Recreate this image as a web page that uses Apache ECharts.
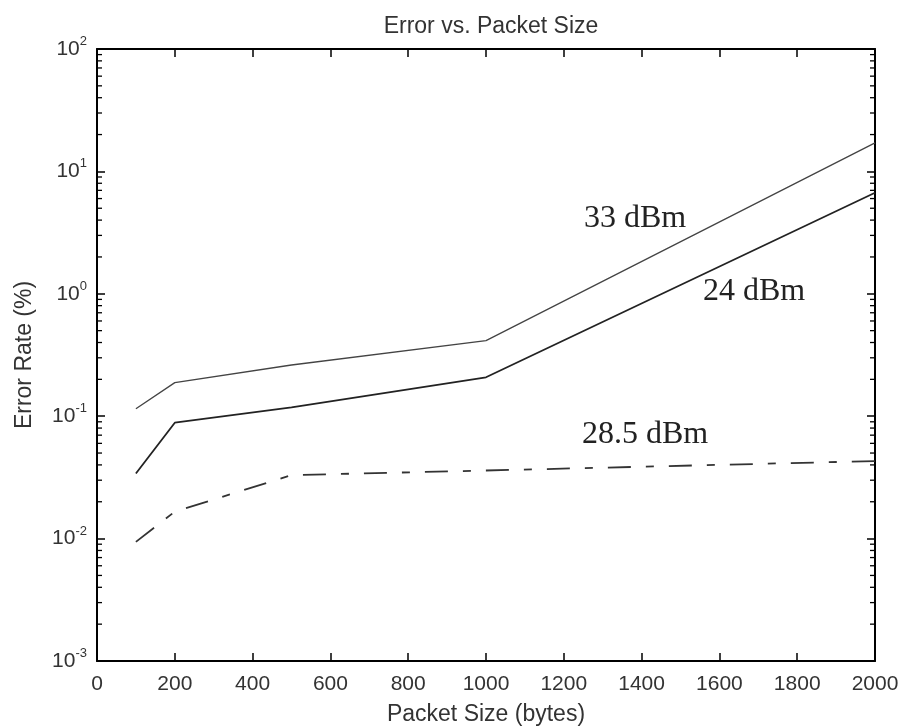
<!DOCTYPE html>
<html>
<head>
<meta charset="utf-8">
<script src="https://cdn.jsdelivr.net/npm/echarts@6/dist/echarts.min.js"></script>
<style>
html,body{margin:0;padding:0;background:#fff;}
#c{width:903px;height:727px;}
</style>
</head>
<body>
<div id="c"></div>
<script>
// ---- data ----
const packetSizes = [100, 200, 500, 1000, 2000];
const err33 = [0.115, 0.188, 0.262, 0.414, 17.1];
const err24 = [0.034, 0.0885, 0.118, 0.208, 6.7];
const err285 = [0.0094, 0.0166, 0.033, 0.036, 0.043];
const seriesNames = ['33 dBm', '24 dBm', '28.5 dBm'];
const xTicks = [0, 200, 400, 600, 800, 1000, 1200, 1400, 1600, 1800, 2000];
const yDecades = [-3, -2, -1, 0, 1, 2];
const minorMantissas = [2, 3, 4, 5, 6, 7, 8, 9];

const pairs = (ys) => packetSizes.map((x, i) => [x, ys[i]]);

const minorTickVals = [];
yDecades.slice(0, -1).forEach(d => minorMantissas.forEach(m => minorTickVals.push([0, m * Math.pow(10, d)])));

const chart = echarts.init(document.getElementById('c'), null, {renderer: 'canvas'});
const sans = 'Liberation Sans, Arial, sans-serif';
const serif = 'Liberation Serif, Times New Roman, serif';

const axisLine = {show: true, onZero: false, lineStyle: {color: '#000', width: 2}};

const option = {
  backgroundColor: '#fff',
  animation: false,
  title: {
    text: 'Error vs. Packet Size',
    left: 486, top: 10, textAlign: 'center',
    textStyle: {fontFamily: sans, fontSize: 23, fontWeight: 'normal', color: '#333'}
  },
  grid: {left: 97, right: 28, top: 49, bottom: 66, containLabel: false, outerBoundsMode: 'none'},
  xAxis: [{
    type: 'value', min: 0, max: 2000, interval: 200,
    axisLine: axisLine,
    axisTick: {show: true, inside: true, length: 8, lineStyle: {color: '#000', width: 1.5}},
    axisLabel: {fontFamily: sans, fontSize: 21, color: '#333', margin: 13,
      formatter: (v) => String(v)},
    splitLine: {show: false},
    name: 'Packet Size (bytes)', nameLocation: 'middle', nameGap: 42,
    nameTextStyle: {fontFamily: sans, fontSize: 23, color: '#333'}
  }, {
    type: 'value', min: 0, max: 2000, interval: 200, position: 'top',
    axisLine: axisLine,
    axisTick: {show: true, inside: true, length: 8, lineStyle: {color: '#000', width: 1.5}},
    axisLabel: {show: false}, splitLine: {show: false}
  }],
  yAxis: [{
    type: 'log', logBase: 10, min: 0.001, max: 100,
    axisLine: axisLine,
    axisTick: {show: true, inside: true, length: 8, lineStyle: {color: '#000', width: 1.5}},
    axisLabel: {
      fontFamily: sans, color: '#333', margin: 10,
      formatter: (v) => '{b|10}{s|' + Math.round(Math.log10(v)) + '}',
      rich: {
        b: {fontFamily: sans, fontSize: 21, color: '#333'},
        s: {fontFamily: sans, fontSize: 13, color: '#333', padding: [0, 0, 15, 0]}
      }
    },
    splitLine: {show: false},
    name: 'Error Rate (%)', nameLocation: 'middle', nameGap: 61,
    nameTextStyle: {fontFamily: sans, fontSize: 23, color: '#333'}
  }, {
    type: 'log', logBase: 10, min: 0.001, max: 100, position: 'right',
    axisLine: axisLine,
    axisTick: {show: true, inside: true, length: 8, lineStyle: {color: '#000', width: 1.5}},
    axisLabel: {show: false}, splitLine: {show: false}
  }],
  graphic: [
    {type: 'text', left: 584, top: 203, style: {text: seriesNames[0], font: '32px ' + serif, fill: '#222'}},
    {type: 'text', left: 703, top: 276, style: {text: seriesNames[1], font: '32px ' + serif, fill: '#222'}},
    {type: 'text', left: 582, top: 419, style: {text: seriesNames[2], font: '32px ' + serif, fill: '#222'}}
  ],
  series: [
    {
      name: seriesNames[0], type: 'line', data: pairs(err33), symbol: 'none',
      lineStyle: {color: '#444', width: 1.3}
    },
    {
      name: seriesNames[1], type: 'line', data: pairs(err24), symbol: 'none',
      lineStyle: {color: '#222', width: 1.8}
    },
    {
      name: seriesNames[2], type: 'line', data: pairs(err285), symbol: 'none',
      lineStyle: {color: '#333', width: 1.8, type: [23, 15, 8, 15]}
    },
    {
      type: 'custom', data: minorTickVals, silent: true, clip: false,
      renderItem: function (params, api) {
        const rect = params.coordSys;
        const p = api.coord([0, api.value(1)]);
        const y = p[1];
        const st = {stroke: '#000', lineWidth: 1.3};
        return {
          type: 'group',
          children: [
            {type: 'line', shape: {x1: rect.x, y1: y, x2: rect.x + 5, y2: y}, style: st},
            {type: 'line', shape: {x1: rect.x + rect.width - 5, y1: y, x2: rect.x + rect.width, y2: y}, style: st}
          ]
        };
      }
    }
  ]
};
chart.setOption(option);
</script>
</body>
</html>
